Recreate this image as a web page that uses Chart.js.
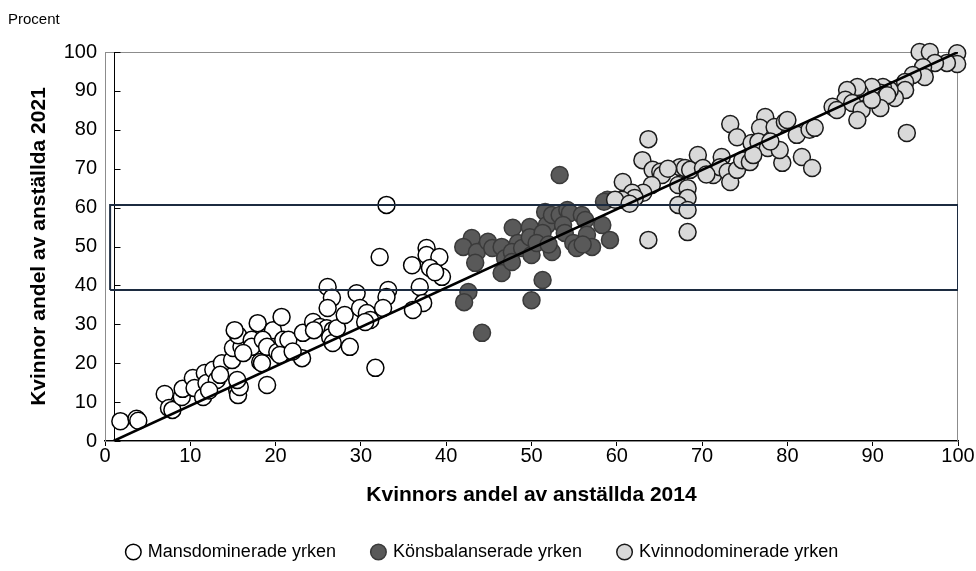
<!DOCTYPE html>
<html>
<head>
<meta charset="utf-8">
<script src="https://cdn.jsdelivr.net/npm/chart.js@4.4.1/dist/chart.umd.min.js"></script>
<style>
  body { margin: 0; background: #fff; }
  #wrap { width: 976px; height: 571px; }
</style>
</head>
<body>
<div id="wrap"><canvas id="chart"></canvas></div>
<script>
// [share of women 2014, share of women 2021]
const mansPoints = [
  [1.8,5.1],[3.7,5.7],[3.9,5.2],[7.0,12.1],[7.5,8.5],[7.9,8.0],[9.0,11.3],[9.1,13.4],[10.3,16.2],[10.5,13.6],
  [11.5,11.3],[11.7,17.5],[11.9,14.9],[12.7,18.3],[13.1,15.7],[13.7,20.0],[14.9,20.8],[15.0,23.9],[15.5,13.1],[15.6,11.8],
  [15.8,13.9],[16.0,24.2],[15.6,27.2],[15.2,28.5],[17.2,26.0],[18.2,20.3],[18.4,25.2],[17.9,30.3],[19.7,28.5],[17.2,24.2],
  [18.5,26.0],[19.0,24.2],[20.2,22.9],[20.9,26.0],[21.5,26.0],[20.5,22.1],[23.1,21.3],[23.2,27.8],[24.4,30.6],[25.2,29.3],
  [26.0,29.0],[26.7,28.5],[26.4,26.7],[26.7,25.2],[27.2,29.0],[28.7,24.2],[31.7,18.8],[19.0,14.4],[15.5,15.7],[18.4,20.0],
  [16.2,22.6],[20.7,31.9],[26.1,39.6],[26.6,36.8],[29.5,38.0],[33.2,38.8],[33.0,37.0],[26.1,34.2],[28.1,32.4],[29.9,34.2],
  [30.7,32.9],[31.1,31.1],[32.6,34.2],[32.2,47.3],[33.0,60.7],[36.0,45.2],[37.7,49.6],[37.7,47.8],[39.2,47.3],[38.1,44.5],
  [39.5,42.2],[38.7,43.4],[36.9,39.6],[37.3,35.5],[36.1,33.7],[30.5,30.6],[22.0,23.0],[24.5,28.5],[13.5,17.0],[12.2,13.0]
];
const balansPoints = [
  [43.0,52.2],[42.0,49.9],[43.6,48.6],[43.4,45.8],[44.9,51.2],[45.4,49.6],[46.5,49.9],[46.9,47.0],[46.5,43.2],[47.8,54.8],
  [48.4,50.9],[47.7,48.6],[48.9,49.6],[49.8,55.0],[49.8,52.4],[50.0,47.8],[51.6,58.9],[51.8,55.5],[51.3,53.5],[52.4,48.6],
  [52.4,58.1],[53.3,58.1],[54.2,59.4],[54.5,58.6],[53.7,55.5],[53.9,53.5],[54.9,50.9],[55.3,49.6],[55.9,58.1],[56.3,56.8],
  [56.5,53.0],[57.1,49.9],[58.3,55.5],[59.2,51.7],[58.9,62.0],[51.3,41.4],[50.0,36.2],[42.6,38.3],[42.1,35.7],[44.2,27.8],
  [50.6,50.9],[47.7,46.0],[53.3,68.4],[58.5,61.5],[52.0,50.5],[56.0,50.5]
];
const kvinnoPoints = [
  [73.3,81.5],[74.1,78.1],[77.4,83.3],[76.8,80.5],[78.5,80.7],[79.7,82.0],[63.7,77.6],[63.0,72.2],[60.7,66.6],[64.2,69.7],
  [65.1,69.2],[65.3,68.4],[64.1,65.8],[63.1,63.8],[61.8,63.8],[62.1,62.5],[60.6,62.0],[59.8,62.0],[67.4,70.4],[68.0,70.2],
  [68.6,69.7],[69.5,73.5],[70.1,70.2],[67.2,65.8],[68.3,65.0],[68.3,62.5],[67.2,60.7],[68.3,59.4],[68.3,53.7],[63.7,51.7],
  [71.3,68.4],[72.3,73.0],[72.1,70.4],[73.0,69.2],[73.3,66.6],[74.1,69.7],[74.7,72.2],[75.6,71.7],[75.8,76.6],[76.6,76.9],
  [77.7,75.3],[79.4,71.5],[95.5,100],[96.7,100],[99.9,99.7],[99.9,96.9],[98.7,97.2],[97.3,97.2],[95.9,96.1],[96.1,93.6],
  [94.7,94.1],[93.8,92.3],[93.8,90.2],[92.6,88.2],[92.0,90.2],[91.2,91.0],[90.9,89.5],[91.7,88.9],[90.9,85.6],[89.9,91.0],
  [88.5,89.5],[88.2,91.0],[87.0,90.2],[86.8,87.7],[87.6,86.9],[88.7,85.1],[88.2,82.5],[85.3,85.9],[85.8,85.1],[89.9,87.7],
  [94.0,79.2],[80.0,82.5],[81.1,78.7],[82.6,80.0],[83.2,80.5],[81.7,73.0],[82.9,70.2],[79.1,74.8],[61.5,61.0],[66.0,70.0],
  [70.5,68.5],[76.0,73.5],[78.0,77.0]
];
const diagonalLine = [[1,0],[100,100]];
const bandBox = [[0.6,38.8],[100,38.8],[100,60.7],[0.6,60.7],[0.6,38.8]];
const yAxisCrossAt = 1;

const toXY = pts => pts.map(([x, y]) => ({ x, y }));

// plot frame, plus the value axis crossing at x = 1 with inward ticks
const framePlugin = {
  id: 'frame',
  beforeDatasetsDraw(chart) {
    const { ctx, chartArea: a, scales: { x, y } } = chart;
    ctx.save();
    ctx.strokeStyle = '#8c8c8c';
    ctx.lineWidth = 1;
    ctx.strokeRect(a.left + 0.5, a.top + 0.5, a.width - 1, a.height);
    const xp = Math.round(x.getPixelForValue(yAxisCrossAt)) + 0.5;
    ctx.strokeStyle = '#000';
    ctx.beginPath();
    ctx.moveTo(xp, a.top);
    ctx.lineTo(xp, a.bottom);
    y.ticks.forEach(t => {
      const yp = Math.round(y.getPixelForValue(t.value)) + 0.5;
      ctx.moveTo(xp, yp);
      ctx.lineTo(xp + 6, yp);
    });
    ctx.stroke();
    ctx.restore();
  }
};

const ctx = document.getElementById('chart').getContext('2d');
new Chart(ctx, {
  type: 'scatter',
  data: {
    datasets: [{
      label: 'Mansdominerade yrken',
      data: toXY(mansPoints),
      backgroundColor: '#ffffff',
      borderColor: '#000000',
      borderWidth: 1.5,
      pointRadius: 8.5,
      order: 3,
      clip: false
    }, {
      label: 'Könsbalanserade yrken',
      data: toXY(balansPoints),
      backgroundColor: '#595959',
      borderColor: '#3a3a3a',
      borderWidth: 1.5,
      pointRadius: 8.5,
      order: 2,
      clip: false
    }, {
      label: 'Kvinnodominerade yrken',
      data: toXY(kvinnoPoints),
      backgroundColor: '#d9d9d9',
      borderColor: '#1a1a1a',
      borderWidth: 1.5,
      pointRadius: 8.5,
      order: 1,
      clip: false
    }, {
      type: 'line',
      data: toXY(diagonalLine),
      borderColor: '#000000',
      borderWidth: 2.5,
      pointRadius: 0,
      fill: false,
      order: 0
    }, {
      type: 'line',
      data: toXY(bandBox),
      borderColor: '#1c2b40',
      borderWidth: 2,
      pointRadius: 0,
      fill: false,
      order: 0
    }]
  },
  options: {
    responsive: true,
    maintainAspectRatio: false,
    animation: false,
    events: [],
    layout: { padding: { left: 8, right: 18, top: 0, bottom: 0 } },
    plugins: {
      title: {
        display: true,
        text: 'Procent',
        align: 'start',
        color: '#000',
        font: { family: 'Liberation Sans', size: 15, weight: 'normal' },
        padding: { top: 11, bottom: 23 }
      },
      legend: {
        position: 'bottom',
        labels: {
          usePointStyle: true,
          boxWidth: 11,
          boxHeight: 11,
          padding: 37,
          color: '#000',
          font: { family: 'Liberation Sans', size: 18 },
          filter: item => item.datasetIndex < 3,
          sort: (a, b) => a.datasetIndex - b.datasetIndex
        }
      },
      tooltip: { enabled: false }
    },
    scales: {
      x: {
        type: 'linear',
        min: 0,
        max: 100,
        ticks: { stepSize: 10, color: '#000', padding: 0, font: { family: 'Liberation Sans', size: 20, lineHeight: 1 } },
        grid: { display: true, drawOnChartArea: false, drawTicks: true, tickLength: 5, color: '#000' },
        border: { display: true, color: '#000', width: 1.5 },
        title: {
          display: true,
          text: 'Kvinnors andel av anställda 2014',
          color: '#000',
          font: { family: 'Liberation Sans', size: 21, weight: 'bold', lineHeight: 1 },
          padding: { top: 19, bottom: 0 }
        }
      },
      y: {
        min: 0,
        max: 100,
        ticks: { stepSize: 10, color: '#000', padding: 8, font: { family: 'Liberation Sans', size: 20, lineHeight: 1 } },
        grid: { display: false, drawTicks: false },
        border: { display: false },
        title: {
          display: true,
          text: 'Kvinnor andel av anställda 2021',
          color: '#000',
          font: { family: 'Liberation Sans', size: 21, weight: 'bold', lineHeight: 1 },
          padding: { top: 21, bottom: 0 }
        },
        afterFit: scale => { scale.width = 97; }
      }
    }
  },
  plugins: [framePlugin]
});
</script>
</body>
</html>
